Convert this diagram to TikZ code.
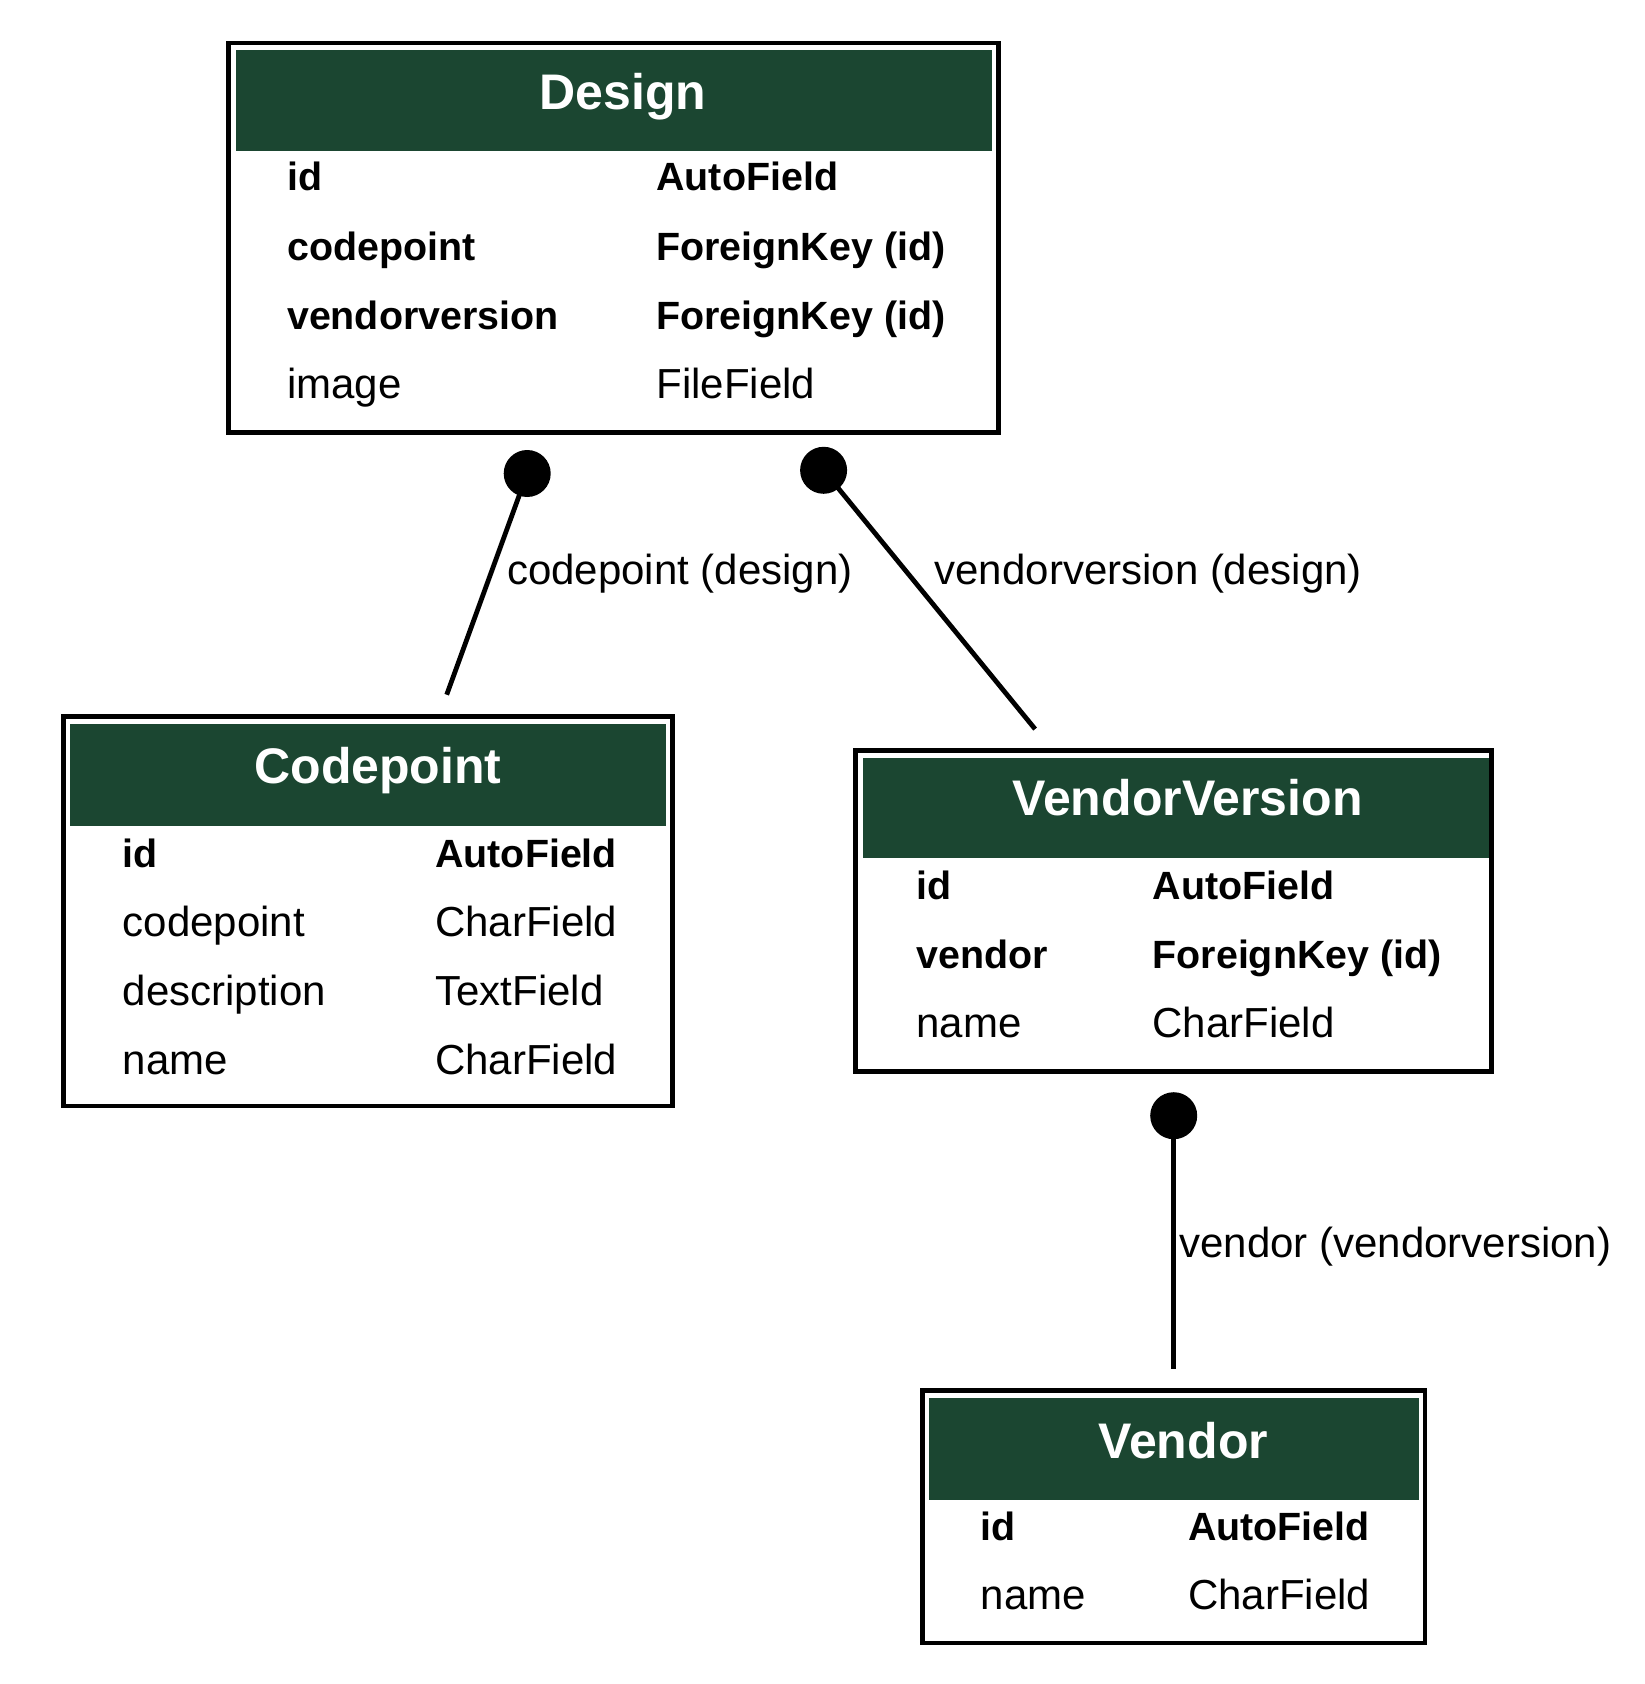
\documentclass[tikz,border=0pt]{standalone}
\usepackage{fontspec}
\setmainfont{Liberation Sans}
\usepackage{xcolor}
\usepackage{tikz}

\definecolor{hdrgreen}{HTML}{1B4631}

\tikzset{
  tbl/.style={line width=2.4pt},
  hdr/.style={fill=hdrgreen},
  ttl/.style={anchor=base, inner sep=0, text=white, font=\bfseries\fontsize{25}{30}\selectfont},
  fld/.style={anchor=base west, inner sep=0, font=\fontsize{21}{25}\selectfont},
  key/.style={anchor=base west, inner sep=0, font=\bfseries\fontsize{19.7}{24}\selectfont},
  dot/.style={circle, fill=black, inner sep=0, minimum size=23.5pt},
  link/.style={line width=2.4pt}
}

\begin{document}
\begin{tikzpicture}[x=0.5pt,y=-0.5pt]
\useasboundingbox (0,0) rectangle (1644,1684);

\draw[tbl] (228.7,43) rectangle (998.6,432.7);
\fill[hdr] (235.5,50.5) rectangle (992,151.4);
\node[ttl] (dsTitle) at (623,110) {Design};
\node[key] (dsId)   at (286.7,191)   {id};
\node[key] (dsCp)   at (286.7,260.5) {codepoint};
\node[key] (dsVv)   at (286.7,330)   {vendorversion};
\node[fld] (dsImg)  at (286.7,399)   {image};
\node[key] (dsIdT)  at (656,191)   {AutoField};
\node[key] (dsCpT)  at (656,260.5) {ForeignKey (id)};
\node[key] (dsVvT)  at (656,330)   {ForeignKey (id)};
\node[fld] (dsImgT) at (656,399)   {FileField};

\draw[tbl] (63.4,716.2) rectangle (672.2,1106);
\fill[hdr] (70,723.5) rectangle (665.8,826);
\node[ttl] (cpTitle) at (378,783) {Codepoint};
\node[key] (cpId)    at (122.4,867)  {id};
\node[fld] (cpCp)    at (122.4,936)  {codepoint};
\node[fld] (cpDesc)  at (122.4,1005) {description};
\node[fld] (cpName)  at (122.4,1074) {name};
\node[key] (cpIdT)   at (434.9,867)  {AutoField};
\node[fld] (cpCpT)   at (434.9,936)  {CharField};
\node[fld] (cpDescT) at (434.9,1005) {TextField};
\node[fld] (cpNameT) at (434.9,1074) {CharField};

\draw[tbl] (855.8,750.6) rectangle (1491.5,1071.7);
\fill[hdr] (862.5,758) rectangle (1488.5,858);
\node[ttl] (vvTitle) at (1187.6,815) {VendorVersion};
\node[key] (vvId)    at (916,899)  {id};
\node[key] (vvVnd)   at (916,968)  {vendor};
\node[fld] (vvName)  at (916,1037) {name};
\node[key] (vvIdT)   at (1152.2,899)  {AutoField};
\node[key] (vvVndT)  at (1152.2,968)  {ForeignKey (id)};
\node[fld] (vvNameT) at (1152.2,1037) {CharField};

\draw[tbl] (922.4,1390.6) rectangle (1425,1642.9);
\fill[hdr] (929,1398) rectangle (1418.5,1500);
\node[ttl] (vnTitle) at (1183.3,1458.5) {Vendor};
\node[key] (vnId)    at (980.4,1540) {id};
\node[fld] (vnName)  at (980.4,1609) {name};
\node[key] (vnIdT)   at (1187.6,1540) {AutoField};
\node[fld] (vnNameT) at (1187.6,1609) {CharField};

\node[dot] (cpDot) at (527.2,473.5) {};
\node[dot] (vvDot) at (823.6,470.3) {};
\node[dot] (vnDot) at (1173.7,1115.7) {};
\coordinate (cpEnd) at (446.7,694.7);
\coordinate (vvEnd) at (1035.1,729.1);
\coordinate (vnEnd) at (1173.7,1369);

\draw[link] (cpDot.center) -- (cpEnd);
\draw[link] (vvDot.center) -- (vvEnd);
\draw[link] (vnDot.center) -- (vnEnd);

\node[fld] (cpLbl) at (506.8,584)  {codepoint (design)};
\node[fld] (vvLbl) at (934.2,584)  {vendorversion (design)};
\node[fld] (vnLbl) at (1179,1257.5) {vendor (vendorversion)};
\end{tikzpicture}
\end{document}
